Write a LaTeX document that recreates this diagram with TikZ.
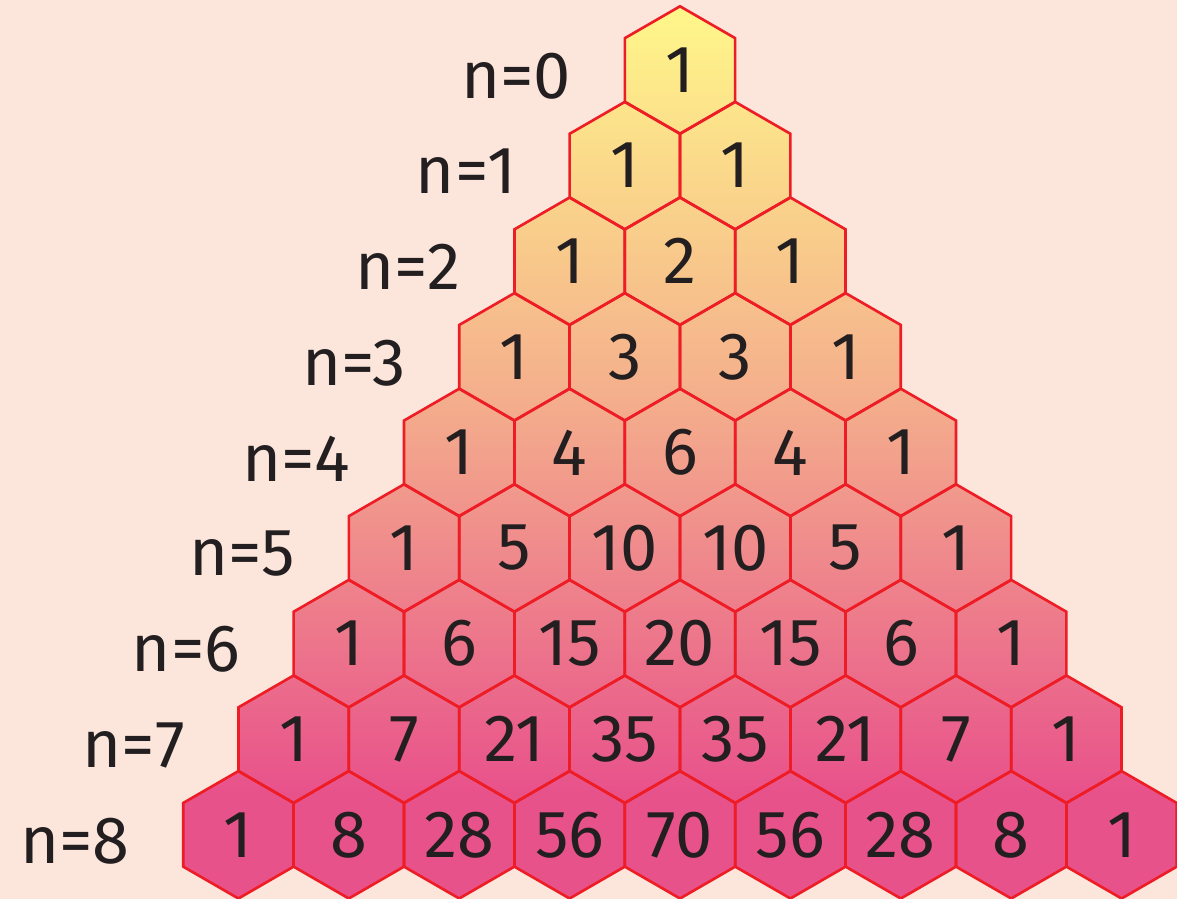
\documentclass[tikz,border=0pt]{standalone}
\usepackage{fontspec}
\setmainfont{Fira Sans}
\usetikzlibrary{positioning, shapes.geometric}
\definecolor{bgpeach}{HTML}{FCE6DC}
\definecolor{hexred}{HTML}{EE1C25}
\definecolor{inkgrey}{HTML}{231F20}
\definecolor{topyellow}{HTML}{FFF78A}
\definecolor{midsalmon}{HTML}{F4AE8C}
\definecolor{botpink}{HTML}{E8528B}
\pgfdeclareverticalshading{pascalfade}{100bp}{color(0bp)=(botpink); color(31bp)=(botpink); color(53bp)=(midsalmon); color(75bp)=(topyellow); color(100bp)=(topyellow)}

\begin{document}
\begin{tikzpicture}[x=0.02cm, y=-0.02cm,
    hexcell/.style={regular polygon, regular polygon sides=6, shape border rotate=30,
      minimum size=2.548cm, inner sep=0pt, draw=hexred, line width=1.5pt,
      text=inkgrey, font=\fontsize{38}{40}\selectfont},
    rowlabel/.style={text=inkgrey, inner sep=0pt, font=\fontsize{38}{40}\selectfont}]
  \useasboundingbox (0,0) rectangle (1177,899);
  \fill[bgpeach] (0,0) rectangle (1177,899);
  \begin{scope}
    \clip \foreach \r in {0,...,8} { \foreach \k in {0,...,\r} {
      ({680+(\k-\r/2)*110.4},{70+95.6*\r}) +(90:63.7) -- +(150:63.7) -- +(210:63.7)
        -- +(270:63.7) -- +(330:63.7) -- +(30:63.7) -- cycle } };
    \shade[shading=pascalfade] (0,7) rectangle (1177,899);
  \end{scope}
  \foreach \r/\vals in {0/{1}, 1/{1,1}, 2/{1,2,1}, 3/{1,3,3,1}, 4/{1,4,6,4,1},
      5/{1,5,10,10,5,1}, 6/{1,6,15,20,15,6,1}, 7/{1,7,21,35,35,21,7,1},
      8/{1,8,28,56,70,56,28,8,1}}
    \foreach \v [count=\k from 0] in \vals
      \node[hexcell] (h-\r-\k) at ({680+(\k-\r/2)*110.4},{70+95.6*\r}) {\v};
  \foreach \r in {0,...,8}
    \node[rowlabel, left=1.04cm of h-\r-0, yshift=-0.12cm] (lbl-\r) {n=\r};
\end{tikzpicture}
\end{document}
